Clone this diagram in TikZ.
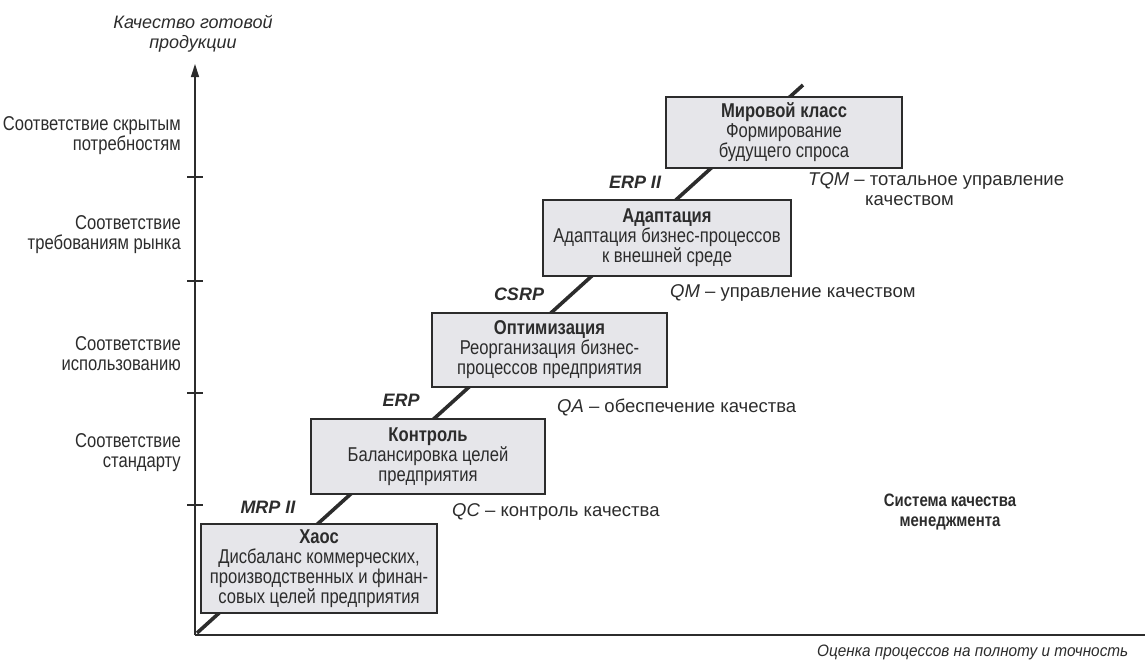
\documentclass[tikz,border=0pt]{standalone}
\usepackage{fontspec}
\setmainfont{Liberation Sans}
\newfontfamily\condfont[FakeStretch=0.83]{Liberation Sans}
\newfontfamily\semicondfont[FakeStretch=0.93]{Liberation Sans}
\usetikzlibrary{arrows.meta}
\definecolor{ink}{HTML}{2C2C2C}
\definecolor{boxfill}{HTML}{E6E6EA}
\begin{document}
\begin{tikzpicture}[x=1pt,y=-1pt,
  stagebox/.style={draw=ink, line width=1.5pt, fill=boxfill, inner sep=0pt,
    align=center, text=ink, font=\condfont\fontsize{20}{20}\selectfont},
  levellabel/.style={anchor=east, align=right, inner sep=0pt, text=ink,
    font=\condfont\fontsize{20}{20.5}\selectfont},
  systag/.style={inner sep=0pt, text=ink,
    font=\bfseries\itshape\fontsize{18}{20}\selectfont},
  qualabel/.style={anchor=west, inner sep=0pt, text=ink,
    font=\fontsize{18.5}{20}\selectfont},
  axistitle/.style={inner sep=0pt, align=center, text=ink,
    font=\itshape\fontsize{18}{20}\selectfont},
  axisline/.style={draw=ink, line width=1.3pt},
  tickmark/.style={draw=ink, line width=1.1pt}]
\useasboundingbox (0,0) rectangle (1145,664);

% axes
\coordinate (O) at (195,635);
\coordinate (ytop) at (195,64);
\coordinate (xend) at (1150,635);
\draw[axisline, -{Triangle[length=13pt,width=8pt]}] (O) -- (ytop);
\draw[axisline] (O) -- (xend);

% tick marks on the quality axis
\foreach \t/\y in {t1/177,t2/281,t3/393,t4/505}{
  \coordinate (\t l) at (187,\y);
  \coordinate (\t r) at (203,\y);
  \draw[tickmark] (\t l) -- (\t r);
}

% axis titles
\node[axistitle] (ytitle) at (193,34) {Качество готовой\\продукции};
\node[axistitle, anchor=west, font=\semicondfont\itshape\fontsize{16.5}{20}\selectfont]
  (xtitle) at (817,652) {Оценка процессов на полноту и точность};

% quality levels
\node[levellabel] (lv4) at (181,135.5) {Соответствие скрытым\\потребностям};
\node[levellabel] (lv3) at (181,234.5) {Соответствие\\требованиям рынка};
\node[levellabel] (lv2) at (181,353.5) {Соответствие\\использованию};
\node[levellabel] (lv1) at (181,452.5) {Соответствие\\стандарту};

% maturity path
\coordinate (pstart) at (197,633);
\coordinate (pend) at (803,85);
\draw[draw=ink, line width=3.6pt] (pstart) -- (pend);

% stages
\node[stagebox, minimum width=236pt, minimum height=89pt] (chaos) at (319,568.5)
  {\textbf{Хаос}\\Дисбаланс коммерческих,\\производственных и финан-\\совых целей предприятия};
\node[stagebox, minimum width=234pt, minimum height=75pt] (control) at (428,456.5)
  {\textbf{Контроль}\\Балансировка целей\\предприятия};
\node[stagebox, minimum width=235pt, minimum height=74pt] (optim) at (549.5,350)
  {\textbf{Оптимизация}\\Реорганизация бизнес-\\процессов предприятия};
\node[stagebox, minimum width=248pt, minimum height=76pt] (adapt) at (667,238)
  {\textbf{Адаптация}\\Адаптация бизнес-процессов\\к внешней среде};
\node[stagebox, minimum width=236pt, minimum height=71pt] (world) at (784,132.5)
  {\textbf{Мировой класс}\\Формирование\\будущего спроса};

% information systems between stages
\node[systag] (mrp) at (268,507) {MRP II};
\node[systag] (erp) at (401,400) {ERP};
\node[systag] (csrp) at (519,294) {CSRP};
\node[systag] (erp2) at (635,182) {ERP II};

% quality approaches
\node[qualabel] (qc) at (452,512) {\textit{QC} – контроль качества};
\node[qualabel] (qa) at (557,407) {\textit{QA} – обеспечение качества};
\node[qualabel] (qm) at (670,293) {\textit{QM} – управление качеством};
\node[qualabel] (tqm) at (808,181) {\textit{TQM} – тотальное управление};
\node[qualabel] (tqm2) at (865,201) {качеством};

% legend
\node[inner sep=0pt, align=center, text=ink,
  font=\condfont\bfseries\fontsize{18}{20}\selectfont] (qms) at (950,512)
  {Система качества\\менеджмента};
\end{tikzpicture}
\end{document}
